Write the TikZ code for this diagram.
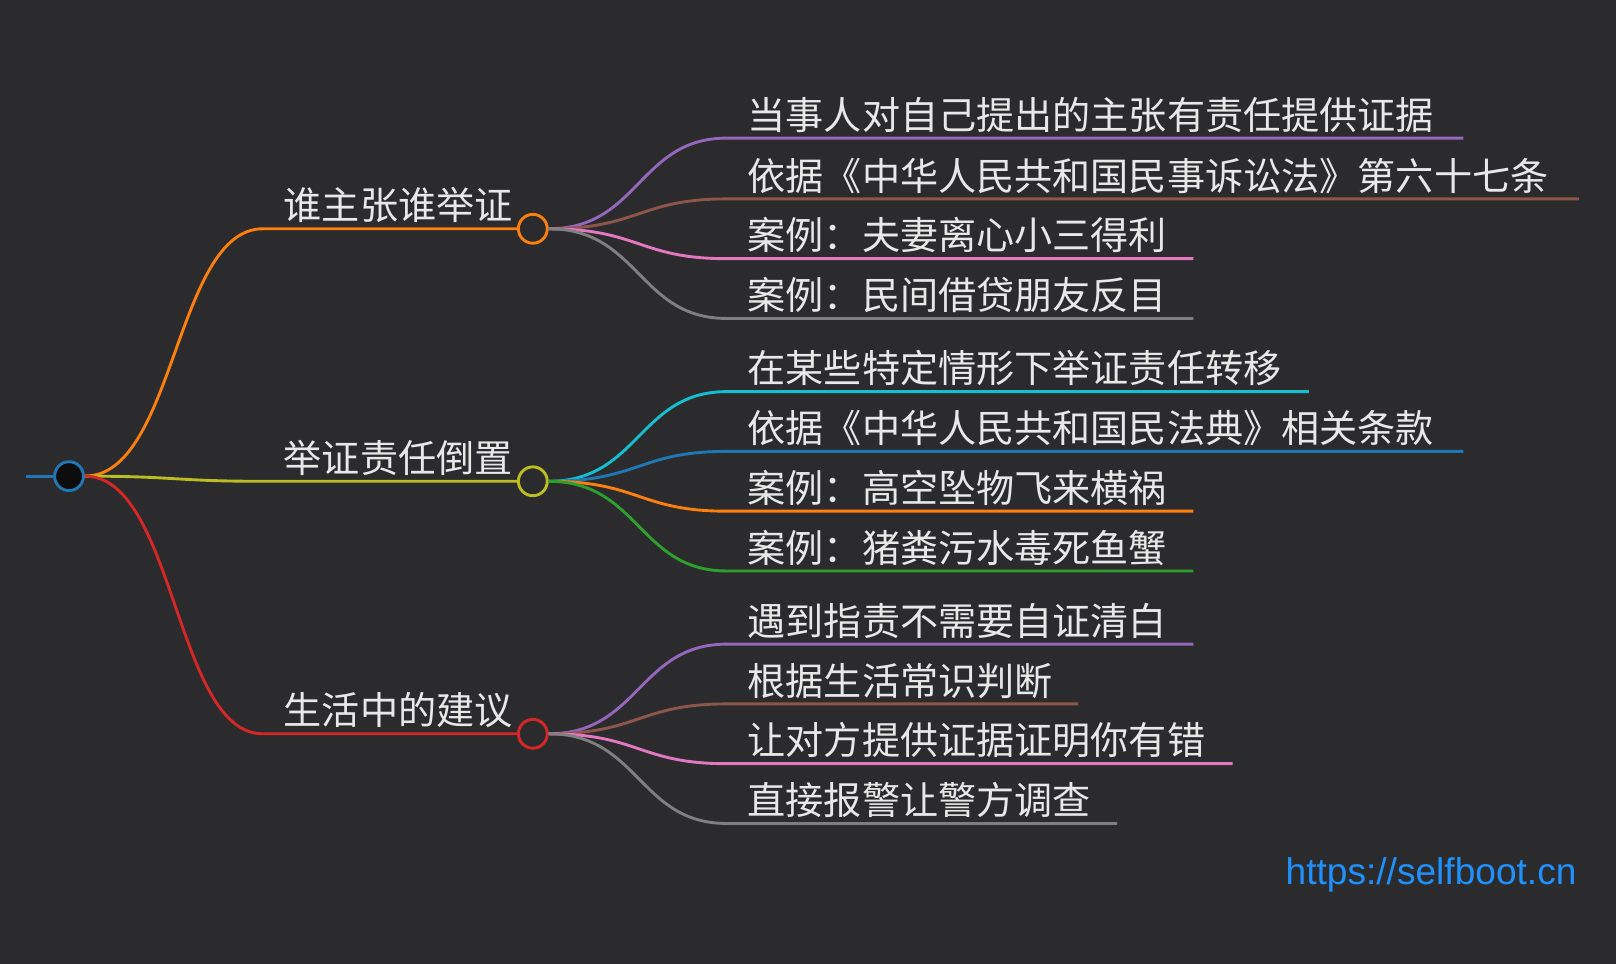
\documentclass[tikz,border=0pt]{standalone}
\usepackage{fontspec}
\setmainfont{Noto Sans CJK SC}
\setsansfont{Liberation Sans}
\definecolor{bg}{HTML}{2B2B2D}
\definecolor{tx}{HTML}{E8E8E8}
\definecolor{cpur}{HTML}{9467BD}
\definecolor{cbrn}{HTML}{8C564B}
\definecolor{cpnk}{HTML}{E377C2}
\definecolor{cgry}{HTML}{7F7F7F}
\definecolor{ccyn}{HTML}{17BECF}
\definecolor{cblu}{HTML}{1F77B4}
\definecolor{corg}{HTML}{FF7F0E}
\definecolor{cgrn}{HTML}{2CA02C}
\definecolor{cred}{HTML}{D62728}
\definecolor{colv}{HTML}{BCBD22}
\definecolor{clink}{HTML}{1E90FF}
\begin{document}
\begin{tikzpicture}[x=0.5pt,y=-0.5pt,
  lbl/.style={anchor=south west,inner sep=0pt,text=tx,font=\fontsize{18.5pt}{20pt}\selectfont},
  dot/.style={circle,minimum size=14pt,inner sep=0pt,line width=1.4pt,fill=bg},
  br/.style={line width=1.4pt}]
\fill[bg] (0,0) rectangle (1568,935);
\useasboundingbox (0,0) rectangle (1568,935);
% root
\coordinate (rs) at (25,462);
\node[dot,draw=cblu,fill=black!70!bg] (root) at (67,462) {};
\draw[br,cblu] (rs) -- (root);
% level 1
\newcommand\lone[4]{% name, y, color, text
  \coordinate (#1h) at (255,#2);
  \node[dot,draw=#3] (#1) at (517,#2) {};
  \draw[br,#3] (root.east) .. controls (170,462) and (170,#2) .. (#1h) -- (#1.west);
  \node[lbl] (#1t) at (275,#2-5) {#4};
}
\newcommand\ltwo[6]{% parent, name, y, color, xend, text
  \coordinate (#2h) at (705,#3);
  \coordinate (#2e) at (#5,#3);
  \draw[br,#4] (#1.east) .. controls (620,\py) and (620,#3) .. (#2h) -- (#2e);
  \node[lbl] (#2t) at (725,#3-5) {#6};
}
\lone{a}{222}{corg}{谁主张谁举证}
\lone{b}{467}{colv}{举证责任倒置}
\lone{c}{712}{cred}{生活中的建议}
\def\py{222}
\ltwo{a}{a1}{134}{cpur}{1420}{当事人对自己提出的主张有责任提供证据}
\ltwo{a}{a2}{193}{cbrn}{1532}{依据《中华人民共和国民事诉讼法》第六十七条}
\ltwo{a}{a3}{251}{cpnk}{1158}{案例：夫妻离心小三得利}
\ltwo{a}{a4}{309}{cgry}{1158}{案例：民间借贷朋友反目}
\def\py{467}
\ltwo{b}{b1}{380}{ccyn}{1270}{在某些特定情形下举证责任转移}
\ltwo{b}{b2}{438}{cblu}{1420}{依据《中华人民共和国民法典》相关条款}
\ltwo{b}{b3}{496}{corg}{1158}{案例：高空坠物飞来横祸}
\ltwo{b}{b4}{554}{cgrn}{1158}{案例：猪粪污水毒死鱼蟹}
\def\py{712}
\ltwo{c}{c1}{625}{cpur}{1158}{遇到指责不需要自证清白}
\ltwo{c}{c2}{683}{cbrn}{1046}{根据生活常识判断}
\ltwo{c}{c3}{741}{cpnk}{1196}{让对方提供证据证明你有错}
\ltwo{c}{c4}{799}{cgry}{1084}{直接报警让警方调查}
\node[anchor=base east,inner sep=0pt,text=clink,font=\sffamily\fontsize{18pt}{20pt}\selectfont] (link) at (1530,858) {https://selfboot.cn};
\end{tikzpicture}
\end{document}
